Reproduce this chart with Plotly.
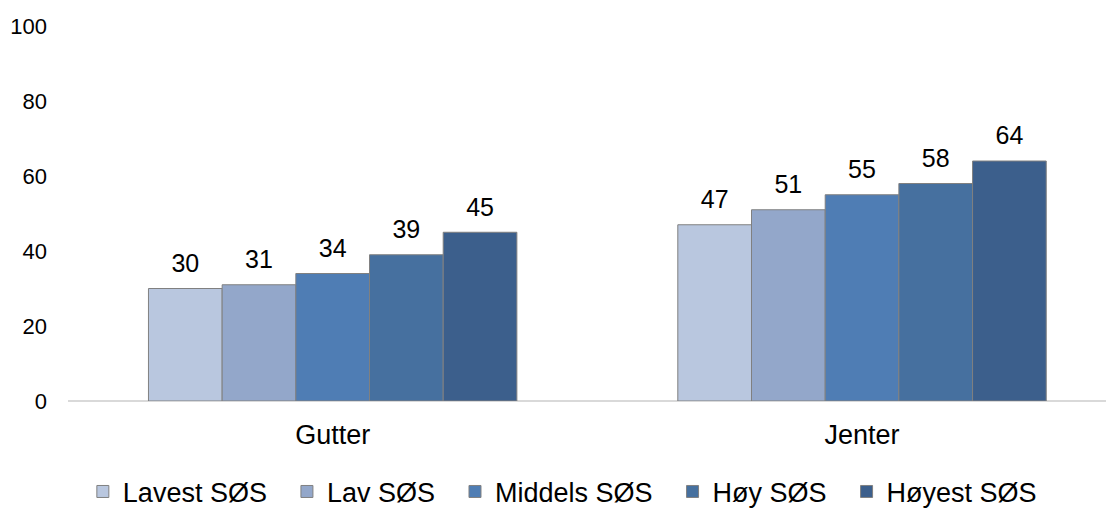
import plotly.graph_objects as go

categories = ["Gutter", "Jenter"]
series_names = ["Lavest SØS", "Lav SØS", "Middels SØS", "Høy SØS", "Høyest SØS"]
values = [
    [30, 47],
    [31, 51],
    [34, 55],
    [39, 58],
    [45, 64],
]
colors = ["#B9C7DF", "#93A7CA", "#4F7DB4", "#46709F", "#3C5F8C"]
y_ticks = [0, 20, 40, 60, 80, 100]

FONT = "Liberation Sans, Arial, sans-serif"
PAD = "\u00a0\u00a0"

fig = go.Figure()
for i, (name, vals, col) in enumerate(zip(series_names, values, colors)):
    fig.add_trace(go.Bar(
        x=categories, y=vals, name=name + PAD, offsetgroup=str(i),
        marker=dict(color=col, line=dict(color="#808080", width=1)),
    ))
for i, (name, vals) in enumerate(zip(series_names, values)):
    fig.add_trace(go.Scatter(
        x=categories, y=vals, offsetgroup=str(i), showlegend=False,
        mode="markers+text", text=[str(v) for v in vals],
        textposition="top center",
        marker=dict(size=15, opacity=0),
        textfont=dict(size=25, color="#000000", family=FONT),
        cliponaxis=False, hoverinfo="skip",
    ))

fig.update_layout(
    width=1106, height=502,
    barmode="group", bargap=0.304, bargroupgap=0,
    scattermode="group", scattergap=0.304,
    plot_bgcolor="white", paper_bgcolor="white",
    margin=dict(l=60, r=0, t=18, b=109, autoexpand=False),
    font=dict(family=FONT, color="#000000"),
    showlegend=True,
    legend=dict(orientation="h", xref="container", x=0.508, xanchor="center",
                yref="container", y=0.036, yanchor="middle",
                font=dict(size=27, family=FONT), traceorder="normal",
                itemwidth=30),
)
fig.update_xaxes(range=[-0.5, 1.476], showgrid=False, showline=False, ticks="",
                 automargin=False, ticklabelstandoff=15,
                 tickfont=dict(size=27, family=FONT))
fig.update_yaxes(range=[0, 100], tickvals=y_ticks, showgrid=False, showline=False,
                 zeroline=True, zerolinecolor="#D9D9D9", zerolinewidth=2,
                 automargin=False, ticks="", ticklabelstandoff=20,
                 tickfont=dict(size=22, family=FONT))

fig.write_html("out.html")
